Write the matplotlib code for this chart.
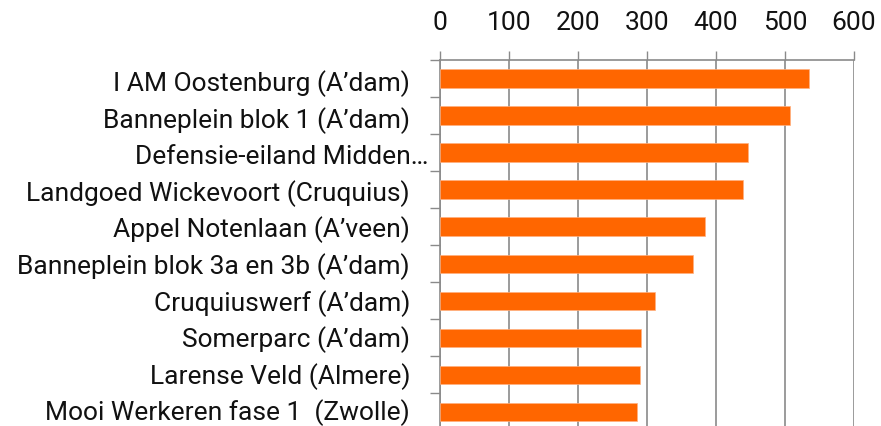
import matplotlib
matplotlib.use("Agg")
import matplotlib.pyplot as plt
import matplotlib.transforms as mtransforms

categories = [
    "I AM Oostenburg (A\u2019dam)",
    "Banneplein blok 1 (A\u2019dam)",
    "Defensie-eiland Midden\u2026",
    "Landgoed Wickevoort (Cruquius)",
    "Appel Notenlaan (A\u2019veen)",
    "Banneplein blok 3a en 3b (A\u2019dam)",
    "Cruquiuswerf (A\u2019dam)",
    "Somerparc (A\u2019dam)",
    "Larense Veld (Almere)",
    "Mooi Werkeren fase 1  (Zwolle)",
]
values = [535, 507, 447, 439, 384, 366, 312, 292, 290, 286]
xticks = [0, 100, 200, 300, 400, 500, 600]

plt.rcParams['font.family'] = ['Roboto', 'DejaVu Sans']

fig = plt.figure(figsize=(8.81, 4.27), dpi=100)
ax = fig.add_axes([440/881, -4.5/427, 414/881, (427-61+4.5)/427])

grid_c = '#8a8a8a'
ypos = list(range(len(categories)))
ax.barh(ypos, values, height=0.5, color='#FF6600', edgecolor='#FFB080', linewidth=0.5, zorder=3)

ax.set_xlim(0, 600)
ax.set_ylim(len(categories) - 0.5, -0.5)

ax.xaxis.tick_top()
ax.set_xticks(xticks)
ax.set_xticklabels([str(t) for t in xticks])
ax.tick_params(axis='x', which='major', direction='out', length=6.5, width=1.0,
               color=grid_c, labelsize=19, pad=12, labelcolor='#111111')
ax.grid(axis='x', color=grid_c, linewidth=1.2, zorder=0)

bounds = [i - 0.5 for i in range(len(categories) + 1)]
ax.set_yticks(bounds)
ax.set_yticklabels([])
ax.tick_params(axis='y', direction='out', length=7.2, width=1.0, color=grid_c)

for s in ['right', 'bottom']:
    ax.spines[s].set_visible(False)
for s in ['top', 'left']:
    ax.spines[s].set_color(grid_c)
    ax.spines[s].set_linewidth(1.2)

base = ax.get_yaxis_transform()
n = len(categories)
for i, lab in enumerate(categories):
    off = -8.6 if lab.endswith('\u2026') else -21.6
    dy_px = 11.5 - 4.0 * i / (n - 1)
    tr = base + mtransforms.ScaledTranslation(off / 72, -dy_px / 100, fig.dpi_scale_trans)
    ax.text(0, i, lab, transform=tr, ha='right', va='baseline',
            fontsize=19, color='#111111', clip_on=False)

fig.savefig('out.png', dpi=100)
